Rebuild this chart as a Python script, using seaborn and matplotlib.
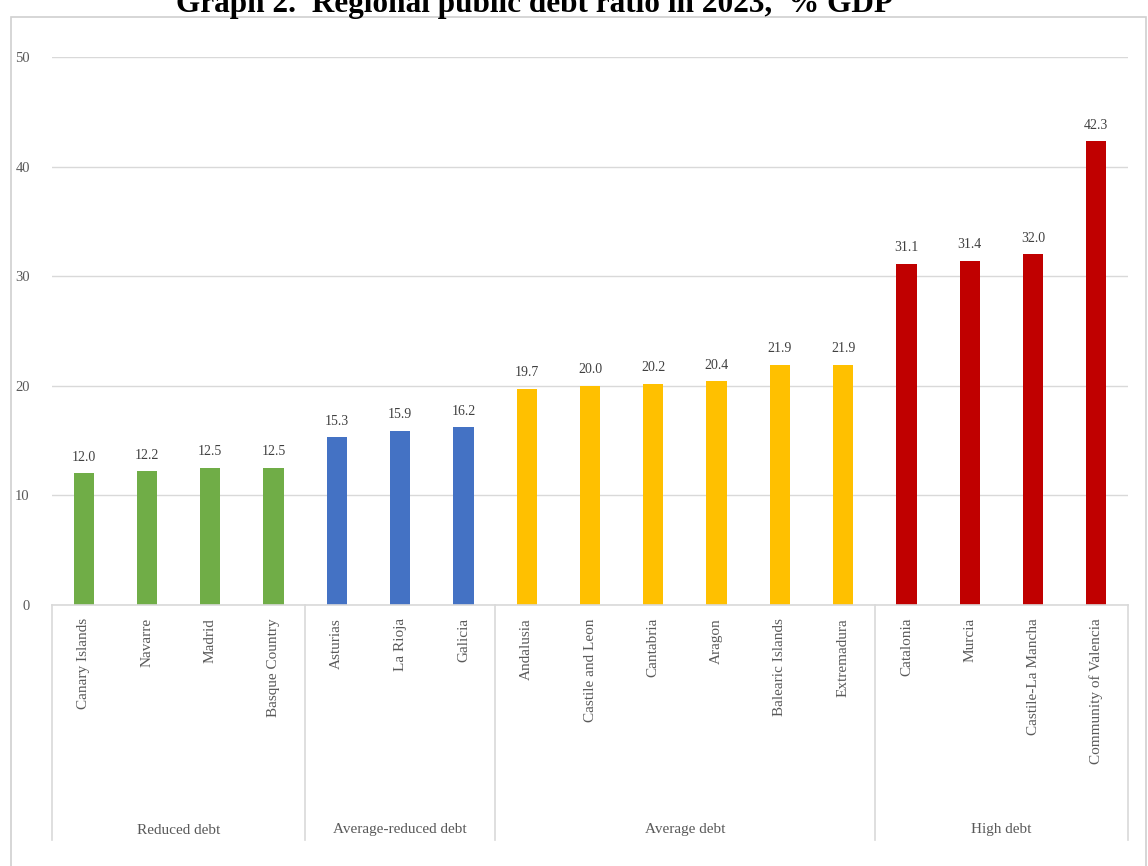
import matplotlib
matplotlib.use("Agg")
import matplotlib.pyplot as plt
import seaborn as sns
import pandas as pd
from matplotlib.patches import Rectangle
from matplotlib.lines import Line2D

regions = ["Canary Islands", "Navarre", "Madrid", "Basque Country",
           "Asturias", "La Rioja", "Galicia",
           "Andalusia", "Castile and Leon", "Cantabria", "Aragon", "Balearic Islands", "Extremadura",
           "Catalonia", "Murcia", "Castile-La Mancha", "Community of Valencia"]
values = [12.0, 12.2, 12.5, 12.5,
          15.3, 15.9, 16.2,
          19.7, 20.0, 20.2, 20.4, 21.9, 21.9,
          31.1, 31.4, 32.0, 42.3]
groups = ["Reduced debt"] * 4 + ["Average-reduced debt"] * 3 + ["Average debt"] * 6 + ["High debt"] * 4
group_names = ["Reduced debt", "Average-reduced debt", "Average debt", "High debt"]
group_colors = ["#70AD47", "#4472C4", "#FFC000", "#C00000"]
yticks = [0, 10, 20, 30, 40, 50]

df = pd.DataFrame({"region": regions, "value": values, "group": groups})

W, H = 1148, 866
fig = plt.figure(figsize=(W / 100, H / 100), dpi=100)
serif = ["Liberation Serif", "DejaVu Serif"]

# chart frame
fig.add_artist(Rectangle((11 / W, -0.02), (1146 - 11) / W, (H - 17) / H + 0.02,
                         transform=fig.transFigure, fill=False, edgecolor="#D0D0D0", lw=1.2))

left, right, y0, y50 = 52, 1128, 605, 57
ax = fig.add_axes([left / W, (H - y0) / H, (right - left) / W, (y0 - y50) / H])

sns.barplot(data=df, x="region", y="value", hue="group", palette=dict(zip(group_names, group_colors)),
            width=0.32, dodge=False, legend=False, ax=ax, order=regions, saturation=1)

ax.set_ylim(0, 50)
ax.set_xlim(-0.5, len(regions) - 0.5)
ax.set_yticks(yticks)
ax.set_yticklabels([str(t) for t in yticks], fontfamily=serif, fontsize=10.5, color="#595959")
ax.tick_params(axis="y", length=0, pad=16)
ax.tick_params(axis="x", length=0)
ax.set_xticks([])
ax.set_xlabel("")
ax.set_ylabel("")
ax.grid(axis="y", color="#D9D9D9", lw=1)
ax.set_axisbelow(True)
for s in ["top", "right", "left"]:
    ax.spines[s].set_visible(False)
ax.spines["bottom"].set_color("#D9D9D9")
ax.spines["bottom"].set_linewidth(1.2)

for i, v in enumerate(values):
    ax.annotate(f"{v:.1f}", (i, v), xytext=(0, 7), textcoords="offset points",
                ha="center", va="bottom", fontfamily=serif, fontsize=10, color="#404040")

# category labels
trans = ax.get_xaxis_transform()
for i, r in enumerate(regions):
    ax.text(i, -(618 - y0) / (y0 - y50), r, rotation=90, ha="center", va="top",
            transform=trans, fontfamily=serif, fontsize=11, color="#595959")

# group separators and labels
bounds = [0]
for g in group_names:
    bounds.append(bounds[-1] + groups.count(g))
sep_bottom = -(840 - y0) / (y0 - y50)
for b in bounds:
    ax.add_line(Line2D([b - 0.5, b - 0.5], [0, sep_bottom], transform=trans, color="#D9D9D9",
                       lw=1.2, clip_on=False))
lab_y = -(830 - y0) / (y0 - y50)
for k, g in enumerate(group_names):
    mid = (bounds[k] + bounds[k + 1] - 1) / 2
    ax.text(mid, lab_y, g, ha="center", va="center", transform=trans,
            fontfamily=serif, fontsize=11, color="#595959")

fig.text(535 / W, (H - 12) / H, "Graph 2.  Regional public debt ratio in 2023,  % GDP",
         ha="center", va="baseline", fontfamily=serif, fontweight="bold", fontsize=22.5, color="black")

fig.savefig("out.png", dpi=100)
